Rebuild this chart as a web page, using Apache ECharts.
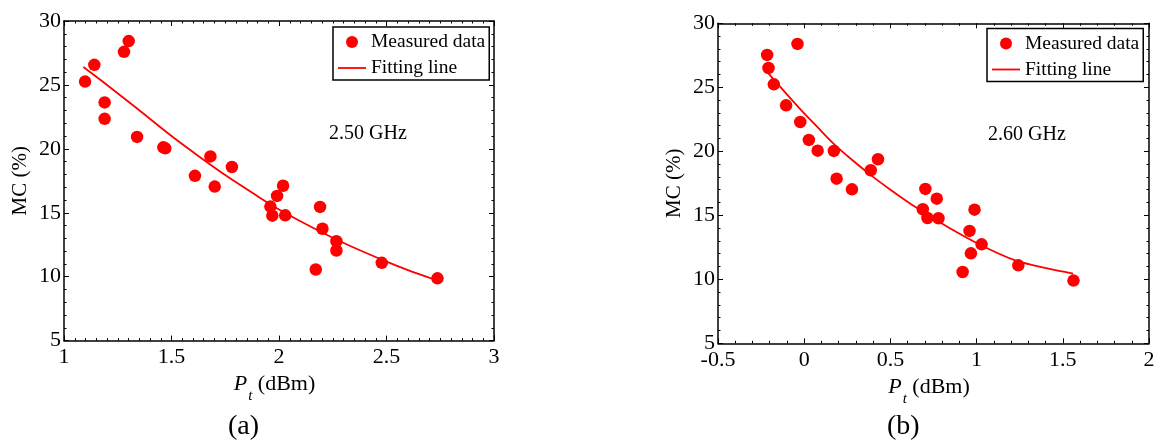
<!DOCTYPE html>
<html><head><meta charset="utf-8">
<script src="https://cdn.jsdelivr.net/npm/echarts@6/dist/echarts.min.js"></script>
<style>html,body{margin:0;padding:0;background:#fff}#c{width:1158px;height:444px}</style>
</head><body><div id="c"></div>
<script>
// ---- data (a) 2.50 GHz ----
const ptA = [1.098, 1.141, 1.279, 1.301, 1.189, 1.189, 1.340, 1.462, 1.471, 1.609, 1.681, 1.701, 1.781, 1.960, 1.969, 1.991, 2.019, 2.029, 2.191, 2.202, 2.171, 2.267, 2.267, 2.478, 2.737];
const mcA = [25.26, 26.57, 27.59, 28.43, 23.63, 22.35, 20.93, 20.12, 20.04, 17.89, 19.41, 17.05, 18.58, 15.48, 14.77, 16.32, 17.11, 14.80, 15.46, 13.75, 10.56, 12.78, 12.05, 11.08, 9.87];
const fitXA = [1.09, 1.2, 1.34, 1.5, 1.6, 1.75, 1.9, 2.0, 2.1, 2.2, 2.35, 2.5, 2.6, 2.72];
const fitYA = [26.4, 25.0, 23.15, 21.0, 19.75, 17.95, 16.3, 15.25, 14.33, 13.46, 12.26, 11.18, 10.52, 9.8];
// ---- data (b) 2.60 GHz ----
const ptB = [-0.215, -0.207, -0.176, -0.039, -0.105, -0.023, 0.027, 0.078, 0.172, 0.188, 0.277, 0.386, 0.428, 0.688, 0.703, 0.715, 0.769, 0.779, 0.919, 0.959, 0.967, 0.988, 1.029, 1.242, 1.562];
const mcB = [27.53, 26.51, 25.23, 28.39, 23.59, 22.29, 20.89, 20.05, 20.03, 17.86, 17.03, 18.52, 19.38, 15.47, 17.06, 14.79, 16.30, 14.77, 10.57, 13.78, 12.03, 15.44, 12.73, 11.09, 9.90];
const fitXB = [-0.215, -0.14, -0.03, 0.08, 0.17, 0.28, 0.39, 0.5, 0.65, 0.83, 1.02, 1.22, 1.41, 1.56];
const fitYB = [26.2, 25.05, 23.4, 21.85, 20.6, 19.3, 18.1, 17.0, 15.6, 14.1, 12.7, 11.5, 10.85, 10.45];
// ---- ticks / texts ----
const xTicksA = [1, 1.5, 2, 2.5, 3];
const xTicksB = [-0.5, 0, 0.5, 1, 1.5, 2];
const yTicks = [5, 10, 15, 20, 25, 30];
const freqLabels = ['2.50 GHz', '2.60 GHz'];
const panelLabels = ['(a)', '(b)'];
const seriesNames = ['Measured data', 'Fitting line'];

const FONT = 'Liberation Serif';
const pairs = (xs, ys) => xs.map((x, i) => [x, ys[i]]);
const step = a => a[1] - a[0];

function xAx(grid, ticks, pos, labels, minorSplit) {
  return {
    type: 'value', gridIndex: grid, position: pos,
    min: ticks[0], max: ticks[ticks.length - 1], interval: step(ticks),
    axisLine: { show: true, onZero: false, lineStyle: { color: '#000', width: 1.5 } },
    axisTick: { show: true, inside: true, length: 5, lineStyle: { color: '#000', width: 1 } },
    minorTick: { show: true, splitNumber: minorSplit, length: 2.5, lineStyle: { color: '#000', width: 1 } },
    splitLine: { show: false },
    axisLabel: { show: labels, color: '#000', fontFamily: FONT, fontSize: 22, margin: 6 },
    name: labels ? '{p|P}{t|t}{n| (dBm)}' : '',
    nameLocation: 'middle', nameGap: 18,
    nameTextStyle: {
      color: '#000', fontFamily: FONT, fontSize: 22,
      rich: {
        p: { fontStyle: 'italic', fontSize: 22, fontFamily: FONT, color: '#000' },
        t: { fontStyle: 'italic', fontSize: 15, fontFamily: FONT, color: '#000', padding: [24, 0, 0, 1] },
        n: { fontSize: 22, fontFamily: FONT, color: '#000', padding: [0, 9, 0, 0] }
      }
    }
  };
}
function yAx(grid, pos, labels) {
  return {
    type: 'value', gridIndex: grid, position: pos,
    min: yTicks[0], max: yTicks[yTicks.length - 1], interval: step(yTicks),
    axisLine: { show: true, onZero: false, lineStyle: { color: '#000', width: 1.5 } },
    axisTick: { show: true, inside: true, length: 5, lineStyle: { color: '#000', width: 1 } },
    minorTick: { show: true, splitNumber: 5, length: 2.5, lineStyle: { color: '#000', width: 1 } },
    splitLine: { show: false },
    axisLabel: { show: labels, color: '#000', fontFamily: FONT, fontSize: 22, margin: 3 },
    name: labels ? 'MC (%)' : '',
    nameLocation: 'middle', nameRotate: 90, nameGap: 33,
    nameTextStyle: { color: '#000', fontFamily: FONT, fontSize: 21 }
  };
}
function legendAt(left, top) {
  return {
    left: left, top: top, orient: 'vertical', selectedMode: false,
    data: [
      { name: seriesNames[0], icon: 'circle' },
      { name: seriesNames[1], icon: 'path://M0,0H28V1.8H0Z' }
    ],
    itemWidth: 28, itemHeight: 12, itemGap: 6, padding: [5, 4, 2, 5],
    borderColor: '#000', borderWidth: 1.5, backgroundColor: '#fff',
    textStyle: { color: '#000', fontFamily: FONT, fontSize: 19.5, lineHeight: 19 }
  };
}
function txt(left, top, s, size) {
  return { type: 'text', left: left, top: top, style: { text: s, fill: '#000', font: size + 'px "' + FONT + '"' } };
}

const chart = echarts.init(document.getElementById('c'), null, { renderer: 'canvas' });
chart.setOption({
  animation: false,
  backgroundColor: '#fff',
  grid: [
    { left: 64, top: 21, width: 430, height: 319.6, outerBoundsMode: 'none', containLabel: false },
    { left: 718, top: 23.3, width: 431, height: 320, outerBoundsMode: 'none', containLabel: false }
  ],
  xAxis: [
    xAx(0, xTicksA, 'bottom', true, 10), xAx(0, xTicksA, 'top', false, 10),
    xAx(1, xTicksB, 'bottom', true, 5), xAx(1, xTicksB, 'top', false, 5)
  ],
  yAxis: [yAx(0, 'left', true), yAx(0, 'right', false), yAx(1, 'left', true), yAx(1, 'right', false)],
  legend: [legendAt(333, 27), legendAt(987, 28.5)],
  graphic: [
    txt(329, 124, freqLabels[0], 20), txt(988, 125, freqLabels[1], 20),
    txt(228, 413, panelLabels[0], 28), txt(887, 413, panelLabels[1], 28)
  ],
  series: [
    { name: seriesNames[1], type: 'line', xAxisIndex: 0, yAxisIndex: 0, data: pairs(fitXA, fitYA), symbol: 'none', smooth: 0.3, lineStyle: { color: '#ff0000', width: 1.8 }, itemStyle: { color: '#ff0000' }, z: 2 },
    { name: seriesNames[0], type: 'scatter', xAxisIndex: 0, yAxisIndex: 0, data: pairs(ptA, mcA), symbol: 'circle', symbolSize: 12.5, itemStyle: { color: '#ff0000', opacity: 1 }, z: 3 },
    { name: seriesNames[1], type: 'line', xAxisIndex: 2, yAxisIndex: 2, data: pairs(fitXB, fitYB), symbol: 'none', smooth: 0.3, lineStyle: { color: '#ff0000', width: 1.8 }, itemStyle: { color: '#ff0000' }, z: 2 },
    { name: seriesNames[0], type: 'scatter', xAxisIndex: 2, yAxisIndex: 2, data: pairs(ptB, mcB), symbol: 'circle', symbolSize: 12.5, itemStyle: { color: '#ff0000', opacity: 1 }, z: 3 }
  ]
});
</script>
</body></html>
